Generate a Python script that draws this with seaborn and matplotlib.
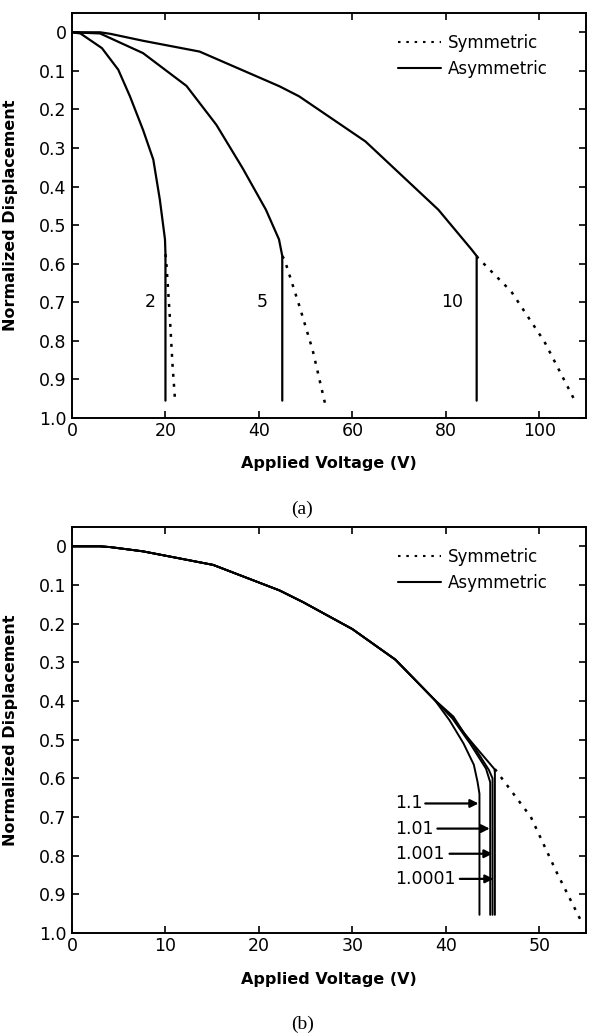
import matplotlib
matplotlib.use("Agg")
import matplotlib.pyplot as plt
import seaborn as sns

# ---- data ----
# panel (a): gap ratios 2, 5, 10
asym2_v = [0, 1.8, 6.4, 9.9, 12.4, 15.2, 17.4, 18.8, 19.9, 20.0, 20.0]
asym2_d = [0, 0.003, 0.041, 0.097, 0.166, 0.253, 0.33, 0.434, 0.537, 0.575, 0.955]
sym2_v = [20.0, 20.2, 20.9, 21.5, 22.0]
sym2_d = [0.575, 0.60, 0.73, 0.86, 0.945]

asym5_v = [0, 6.0, 15.2, 24.5, 30.9, 36.5, 41.5, 44.3, 45.0, 45.0]
asym5_d = [0, 0.003, 0.054, 0.139, 0.24, 0.352, 0.46, 0.537, 0.58, 0.955]
sym5_v = [45.0, 45.5, 48.7, 51.5, 54.3]
sym5_d = [0.58, 0.59, 0.711, 0.824, 0.97]

asym10_v = [0, 6.0, 8.2, 15.2, 27.3, 44.4, 48.6, 62.8, 78.4, 85.5, 86.6, 86.6]
asym10_d = [0, 0, 0.004, 0.022, 0.05, 0.14, 0.166, 0.283, 0.46, 0.563, 0.58, 0.955]
sym10_v = [86.6, 86.9, 94.0, 101.1, 107.9]
sym10_d = [0.58, 0.585, 0.672, 0.802, 0.962]

labels_a = ["2", "5", "10"]
labels_a_v = [16.7, 40.8, 81.4]

# panel (b): ratios 1.1, 1.01, 1.001, 1.0001
common_v = [0, 3.0, 4.1, 7.6, 15.1, 22.2, 24.7, 30.0, 34.6, 38.8]
common_d = [0, 0, 0.002, 0.013, 0.048, 0.114, 0.144, 0.214, 0.293, 0.397]
b11_v = [40.4, 41.9, 43.0, 43.4, 43.6, 43.6]
b11_d = [0.45, 0.51, 0.565, 0.61, 0.64, 0.953]
b101_v = [40.7, 42.6, 44.3, 44.75, 44.75]
b101_d = [0.445, 0.51, 0.575, 0.61, 0.953]
b1001_v = [40.7, 42.8, 44.6, 45.0, 45.0]
b1001_d = [0.442, 0.51, 0.578, 0.60, 0.953]
b10001_v = [40.8, 42.0, 45.2, 45.25, 45.25]
b10001_d = [0.44, 0.485, 0.576, 0.585, 0.953]
symb_v = [45.25, 49.1, 51.9, 54.6]
symb_d = [0.576, 0.70, 0.845, 0.975]

labels_b = ["1.1", "1.01", "1.001", "1.0001"]
labels_b_d = [0.665, 0.73, 0.795, 0.86]
arrow_tail_v = [37.8, 39.1, 40.4, 41.5]
arrow_head_v = [43.5, 44.7, 45.0, 45.1]

yticks = [0, 0.1, 0.2, 0.3, 0.4, 0.5, 0.6, 0.7, 0.8, 0.9, 1.0]
ytick_labels = ["0", "0.1", "0.2", "0.3", "0.4", "0.5", "0.6", "0.7", "0.8", "0.9", "1.0"]

sns.set_style("ticks")
plt.rcParams["font.family"] = ["DejaVu Sans"]
plt.rcParams["text.color"] = "black"
plt.rcParams["axes.labelcolor"] = "black"
plt.rcParams["xtick.color"] = "black"
plt.rcParams["ytick.color"] = "black"

fig = plt.figure(figsize=(5.89, 10.36), dpi=100)
W, H = 589, 1036
ax1 = fig.add_axes([72 / W, 1 - 418 / H, 514 / W, 405 / H])
ax2 = fig.add_axes([72 / W, 1 - 933 / H, 514 / W, 406 / H])

dot = (0, (1.2, 2.8))


def curve(ax, v, d, style="-", lw=1.6):
    sns.lineplot(x=v, y=d, ax=ax, sort=False, estimator=None, color="black",
                 linestyle=style, linewidth=lw)


# panel (a)
for v, d in [(asym2_v, asym2_d), (asym5_v, asym5_d), (asym10_v, asym10_d)]:
    curve(ax1, v, d)
for v, d in [(sym2_v, sym2_d), (sym5_v, sym5_d), (sym10_v, sym10_d)]:
    curve(ax1, v, d, dot, 1.8)
for lab, v in zip(labels_a, labels_a_v):
    ax1.text(v, 0.70, lab, ha="center", va="center", fontsize=12.5)

# panel (b)
for extra_v, extra_d in [(b11_v, b11_d), (b101_v, b101_d), (b1001_v, b1001_d), (b10001_v, b10001_d)]:
    curve(ax2, common_v + extra_v, common_d + extra_d, lw=1.4)
curve(ax2, symb_v, symb_d, dot, 1.8)
for lab, d, t, h in zip(labels_b, labels_b_d, arrow_tail_v, arrow_head_v):
    ax2.text(34.6, d, lab, ha="left", va="center", fontsize=12.5)
    ax2.annotate("", xy=(h, d), xytext=(t, d),
                 arrowprops=dict(arrowstyle="-|>", color="black", lw=1.6,
                                 mutation_scale=12, shrinkA=0, shrinkB=0))

for ax, xmax, xt, cap in [(ax1, 110, range(0, 101, 20), "(a)"), (ax2, 55, range(0, 51, 10), "(b)")]:
    ax.set_xlim(0, xmax)
    ax.set_ylim(1.0, -0.05)
    ax.set_xticks(list(xt))
    ax.set_yticks(yticks)
    ax.set_yticklabels(ytick_labels)
    ax.tick_params(direction="in", top=True, right=True, length=5, width=1.2,
                   labelsize=12.5, pad=4)
    ax.tick_params(axis="x", pad=3)
    for s in ax.spines.values():
        s.set_linewidth(1.4)
        s.set_color("black")
    ax.set_xlabel("Applied Voltage (V)", fontsize=11.5, fontweight="bold")
    ax.set_ylabel("Normalized Displacement", fontsize=11.5, fontweight="bold")
    ax.xaxis.set_label_coords(0.5, -0.095)
    ax.yaxis.set_label_coords(-0.105, 0.5)
    ax.text(0.448, -0.225, cap, transform=ax.transAxes, ha="center", va="center",
            fontsize=14, family="Liberation Serif")
    # legend handles drawn as proxies
    ax.plot([], [], color="black", linestyle=dot, lw=1.5, label="Symmetric")
    ax.plot([], [], color="black", linestyle="-", lw=1.5, label="Asymmetric")
    ax.legend(loc="upper right", frameon=False, fontsize=12, handlelength=2.6,
              handletextpad=0.4, labelspacing=0.45, borderaxespad=0.5,
              bbox_to_anchor=(0.955, 0.985))

fig.savefig("out.png", dpi=100)
